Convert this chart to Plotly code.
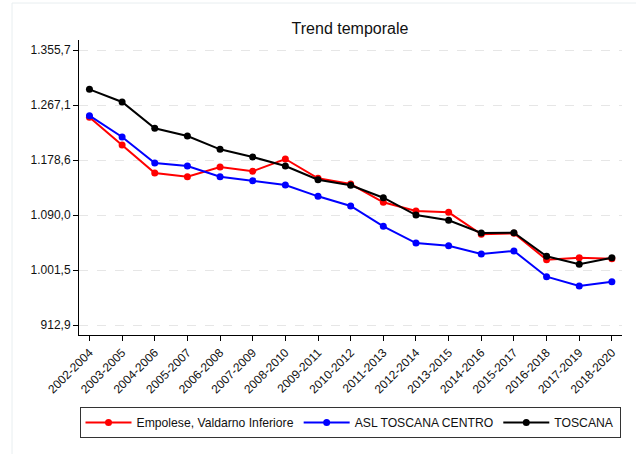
import plotly.graph_objects as go

periods = ["2002-2004", "2003-2005", "2004-2006", "2005-2007", "2006-2008", "2007-2009",
           "2008-2010", "2009-2011", "2010-2012", "2011-2013", "2012-2014", "2013-2015",
           "2014-2016", "2015-2017", "2016-2018", "2017-2019", "2018-2020"]

empolese = [1247.3, 1202.7, 1157.6, 1151.7, 1167.3, 1160.4, 1180.2, 1149.1, 1139.9,
            1110.4, 1096.5, 1094.3, 1058.9, 1060.5, 1018.1, 1021.3, 1019.7]
asl_centro = [1249.9, 1215.6, 1173.8, 1168.9, 1151.7, 1145.3, 1138.3, 1120.1, 1104.5,
              1071.8, 1044.9, 1040.6, 1027.2, 1032.1, 990.7, 975.7, 982.6]
toscana = [1292.4, 1272.0, 1229.6, 1217.2, 1195.8, 1183.4, 1168.9, 1146.9, 1137.8,
           1117.9, 1090.0, 1081.5, 1061.0, 1061.5, 1023.5, 1010.6, 1021.3]

ytick_vals = [912.9, 1001.46, 1090.02, 1178.58, 1267.14, 1355.7]
ytick_text = ["912,9", "1.001,5", "1.090,0", "1.178,6", "1.267,1", "1.355,7"]

series_names = ["Empolese, Valdarno Inferiore", "ASL TOSCANA CENTRO", "TOSCANA"]
series_colors = ["#ff0000", "#0000ff", "#000000"]

fig = go.Figure()
for name, vals, col in zip(series_names, [empolese, asl_centro, toscana], series_colors):
    fig.add_trace(go.Scatter(
        x=periods, y=vals, name=name, mode="lines+markers",
        line=dict(color=col, width=2),
        marker=dict(color=col, size=7),
    ))

fig.update_layout(
    width=636, height=454,
    paper_bgcolor="white", plot_bgcolor="white",
    font=dict(family="Liberation Sans, Arial, sans-serif", size=12, color="#222"),
    margin=dict(l=79, r=14, t=40, b=119, autoexpand=False),
    title=dict(text="Trend temporale", x=(350 / 636), xanchor="center",
               y=1 - 28 / 454, yanchor="middle",
               font=dict(size=16, color="#111")),
    showlegend=True,
    legend=dict(orientation="h", x=(350 - 79) / 543, xanchor="center",
                y=(335 - 407) / 295, yanchor="top",
                bordercolor="#333", borderwidth=1, bgcolor="white",
                itemwidth=46, font=dict(size=12.2, color="#111"),
                itemclick=False),
    xaxis=dict(
        range=[-0.32, 16.31], showline=True, linecolor="black", linewidth=1,
        ticks="outside", ticklen=5, tickcolor="black", tickangle=-45,
        showgrid=False, zeroline=False, tickfont=dict(size=12, color="#111"),
    ),
    yaxis=dict(
        range=[896.8, 1371.8], showline=True, linecolor="black", linewidth=1,
        ticks="outside", ticklen=5, tickcolor="black",
        tickvals=ytick_vals, ticktext=ytick_text,
        showgrid=True, gridcolor="#e6e6e6", griddash="dash", gridwidth=1,
        zeroline=False, tickfont=dict(size=12, color="#111"),
    ),
    shapes=[dict(type="rect", xref="paper", yref="paper",
                 x0=(12 - 79) / 543, x1=(700 - 79) / 543,
                 y0=(335 - 500) / 295, y1=(335 - 3) / 295,
                 line=dict(color="#e8eef0", width=1), layer="below")],
)

fig.write_html("out.html", config={"displayModeBar": False},
               post_script="document.body.style.margin='0';document.body.style.overflow='hidden';")
